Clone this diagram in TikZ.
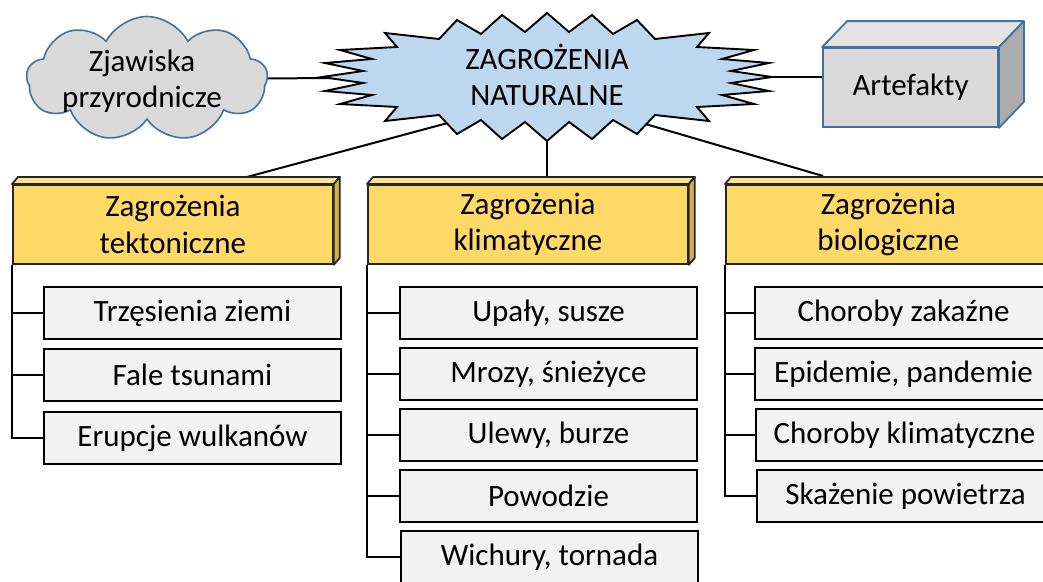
\documentclass[tikz,border=0pt]{standalone}
\usepackage{fontspec}
\setmainfont{Carlito}
\usetikzlibrary{shapes.symbols}
\pgfdeclarelayer{bg}
\pgfsetlayers{bg,main}
\definecolor{cloudfill}{HTML}{D9D9D9}
\definecolor{blueline}{HTML}{41719C}
\definecolor{starfill}{HTML}{BDD7EE}
\definecolor{goldfront}{HTML}{FFD966}
\definecolor{goldtop}{HTML}{FFE48F}
\definecolor{goldside}{HTML}{D4AF45}
\definecolor{itemfill}{HTML}{F2F2F2}
\definecolor{boxfront}{HTML}{D9D9D9}
\definecolor{boxtop}{HTML}{E3E3E3}
\definecolor{boxside}{HTML}{ABABAB}
\begin{document}
\begin{tikzpicture}[x=1pt,y=-1pt,
  every node/.style={font=\fontsize{31}{36.5}\selectfont, align=center, inner sep=0pt},
  conn/.style={draw=black, line width=2pt},
  hdrface/.style={fill=goldfront, draw=black!85, line width=1.8pt, minimum width=320pt, minimum height=79pt, anchor=north west},
  hdrtop/.style={fill=goldtop, draw=black!85, line width=1.8pt, line join=round},
  hdrside/.style={fill=goldside, draw=black!85, line width=1.8pt, line join=round},
  itembox/.style={fill=itemfill, draw=black, line width=2pt, minimum width=297pt, minimum height=52pt, anchor=north west},
  artface/.style={fill=boxfront, draw=blueline, line width=1.8pt, minimum width=175pt, minimum height=79pt},
  arttop/.style={fill=boxtop, draw=blueline, line width=1.8pt, line join=round},
  artside/.style={fill=boxside, draw=blueline, line width=1.8pt, line join=round},
  cloudnode/.style={cloud, cloud puffs=9, cloud puff arc=125, aspect=2, fill=cloudfill, draw=blueline, line width=1.6pt, minimum width=241pt, minimum height=125pt},
  starpath/.style={fill=starfill, draw=black, line width=1.9pt, line join=miter}
]
\useasboundingbox (0,0) rectangle (1043,581);
\clip (0,0) rectangle (1043,581);

% cloud
\node[cloudnode] (cloud) at (147,79) {};
\node (cloudtxt) at (142,81) {Zjawiska\\przyrodnicze};

% starburst
\def\Lst{184/6, 222/14, 175/18, 207/27, 150/30, 162/44, 108/38, 90/57, 66/43, 45/62, 22/45, 0/64}
\def\Lrev{22/45, 45/62, 66/43, 90/57, 108/38, 162/44, 150/30, 207/27, 175/18, 222/14, 184/6, 225/0}
\begin{scope}[shift={(547,77)}]
\draw[starpath] (225,0)
  \foreach \a/\b in \Lst {-- (\a,-\b)}
  \foreach \a/\b in \Lrev {-- (-\a,-\b)}
  \foreach \a/\b in \Lst {-- (-\a,\b)}
  \foreach \a/\b in \Lrev {-- (\a,\b)} -- cycle;
\end{scope}
\node (star) at (547,77) {};
\node (startxt) at (547,75) {ZAGROŻENIA\\NATURALNE};

% Artefakty box
\node[artface] (art) at (910.5,87.5) {Artefakty};
\draw[arttop] (art.north west) -- ([shift={(25,-26)}]art.north west) -- ([shift={(25,-26)}]art.north east) -- (art.north east) -- cycle;
\draw[artside] (art.north east) -- ([shift={(25,-26)}]art.north east) -- ([shift={(25,-26)}]art.south east) -- (art.south east) -- cycle;

% headers
\node[hdrface] (hL) at (12,184) {Zagrożenia\\tektoniczne};
\node[hdrface] (hM) at (367,184) {Zagrożenia\\klimatyczne};
\node[hdrface, minimum width=325pt] (hR) at (725,184) {Zagrożenia\\biologiczne};
\foreach \h in {hL,hM,hR}{
  \draw[hdrtop] (\h.north west) -- ([shift={(6,-7)}]\h.north west) -- ([shift={(6,-7)}]\h.north east) -- (\h.north east) -- cycle;
  \draw[hdrside] (\h.north east) -- ([shift={(6,-7)}]\h.north east) -- ([shift={(6,-7)}]\h.south east) -- (\h.south east) -- cycle;
}

% items
\node[itembox] (iL1) at (43,286) {Trzęsienia ziemi};
\node[itembox] (iL2) at (43,348) {Fale tsunami};
\node[itembox] (iL3) at (43,411) {Erupcje wulkanów};

\node[itembox] (iM1) at (399,286) {Upały, susze};
\node[itembox] (iM2) at (399,347) {Mrozy, śnieżyce};
\node[itembox] (iM3) at (399,408) {Ulewy, burze};
\node[itembox] (iM4) at (399,469) {Powodzie};
\node[itembox] (iM5) at (400,530) {Wichury, tornada};

\node[itembox] (iR1) at (754,286) {Choroby zakaźne};
\node[itembox] (iR2) at (754,347) {Epidemie, pandemie};
\node[itembox] (iR3) at (755,408) {Choroby klimatyczne};
\node[itembox] (iR4) at (756,469) {Skażenie powietrza};

% connector end points
\coordinate (sL) at (470,117);
\coordinate (aL) at (247,177);
\coordinate (sR) at (625,118);
\coordinate (aR) at (823,176);
\coordinate (aM) at (547,177);

\begin{pgfonlayer}{bg}
\draw[conn] (cloud.center) -- (star.center);
\draw[conn] (star.center) -- (star.center -| art.west);
\draw[conn] (sL) -- (aL);
\draw[conn] (sR) -- (aR);
\draw[conn] (star.center) -- (aM);
% trunks
\draw[conn] (hL.south west) |- (iL3.west);
\foreach \i in {iL1,iL2}{\draw[conn] (hL.south west |- \i.west) -- (\i.west);}
\draw[conn] (hM.south west) |- (iM5.west);
\foreach \i in {iM1,iM2,iM3,iM4}{\draw[conn] (hM.south west |- \i.west) -- (\i.west);}
\draw[conn] (hR.south west) |- (iR4.west);
\foreach \i in {iR1,iR2,iR3}{\draw[conn] (hR.south west |- \i.west) -- (\i.west);}
\end{pgfonlayer}
\end{tikzpicture}
\end{document}
